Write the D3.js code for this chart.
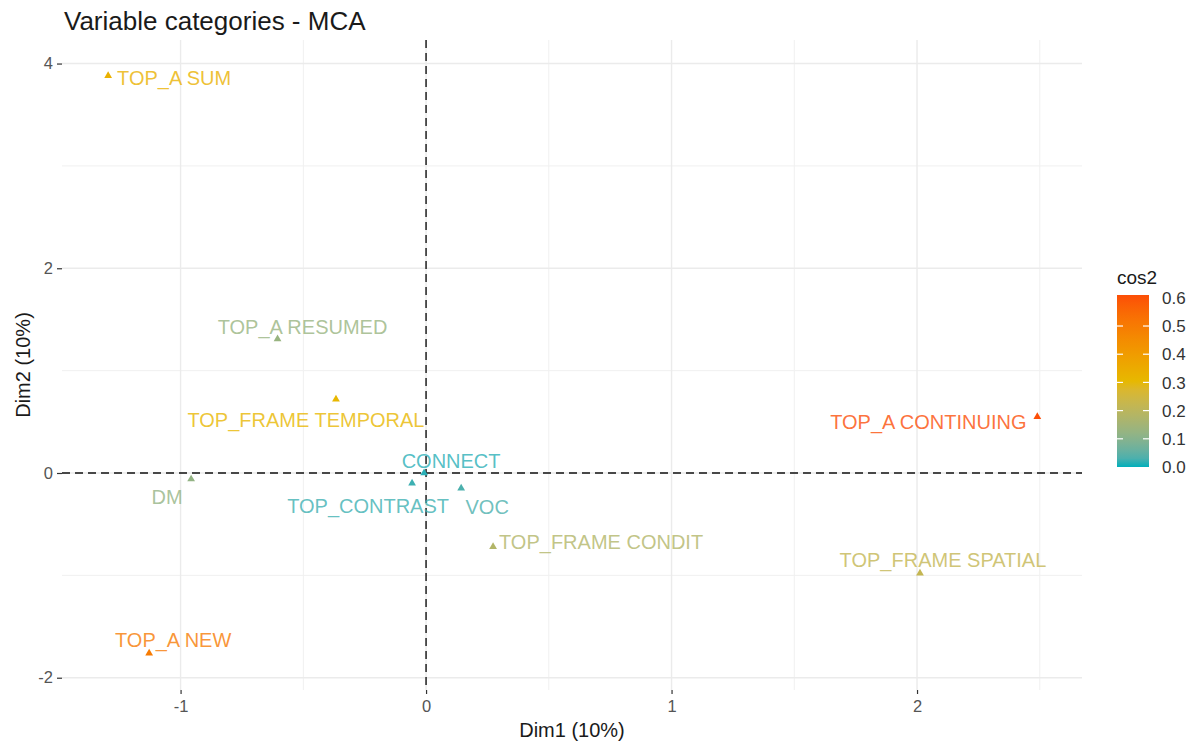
<!DOCTYPE html>
<html>
<head>
<meta charset="utf-8">
<script src="https://cdn.jsdelivr.net/npm/d3@7"></script>
<style>
  body { margin: 0; background: #fff; }
  text { font-family: "Liberation Sans", Arial, sans-serif; }
</style>
</head>
<body>
<div id="chart"></div>
<script>
// data
var categories = ["TOP_A SUM", "TOP_A RESUMED", "TOP_FRAME TEMPORAL", "DM", "CONNECT",
  "TOP_CONTRAST", "VOC", "TOP_FRAME CONDIT", "TOP_A CONTINUING", "TOP_FRAME SPATIAL", "TOP_A NEW"];
var dim1 = [-1.295, -0.605, -0.367, -0.957, -0.008, -0.057, 0.143, 0.273, 2.49, 2.012, -1.128];
var dim2 = [3.88, 1.31, 0.72, -0.06, 0.0, -0.10, -0.15, -0.72, 0.55, -0.98, -1.76];
var cos2 = [0.33, 0.13, 0.31, 0.12, 0.01, 0.02, 0.03, 0.18, 0.61, 0.22, 0.50];
var xTicks = [-1, 0, 1, 2];
var yTicks = [-2, 0, 2, 4];
var legendTicks = [0, 0.1, 0.2, 0.3, 0.4, 0.5, 0.6];

// label placement (repelled text offsets in px, from the point)
var labelOffset = {
  "TOP_A SUM": [66, 2], "TOP_A RESUMED": [25, -12], "TOP_FRAME TEMPORAL": [-30, 21],
  "DM": [-24, 18], "CONNECT": [27, -12], "TOP_CONTRAST": [-44, 23], "VOC": [26, 18],
  "TOP_FRAME CONDIT": [108, -5], "TOP_A CONTINUING": [-109, 5],
  "TOP_FRAME SPATIAL": [23, -14], "TOP_A NEW": [24, -13]
};

var width = 1196, height = 745;
var panel = {left: 62, right: 1082, top: 40, bottom: 690};

var svg = d3.select("#chart").append("svg")
  .attr("width", width)
  .attr("height", height);

var x = d3.scaleLinear().domain([-1.483, 2.672]).range([panel.left, panel.right]);
var y = d3.scaleLinear().domain([-2.12, 4.23]).range([panel.bottom, panel.top]);

var color = d3.scaleLinear()
  .domain([0, 0.305, 0.61])
  .range(["#00AFBB", "#E7B800", "#FC4E07"])
  .interpolate(d3.interpolateLab);

// grid
var grid = svg.append("g");
var xMinor = [-0.5, 0.5, 1.5, 2.5];
var yMinor = [-1, 1, 3];
grid.selectAll(".vminor").data(xMinor).enter().append("line")
  .attr("x1", x).attr("x2", x).attr("y1", panel.top).attr("y2", panel.bottom)
  .attr("stroke", "#f0f0f0").attr("stroke-width", 1);
grid.selectAll(".hminor").data(yMinor).enter().append("line")
  .attr("y1", y).attr("y2", y).attr("x1", panel.left).attr("x2", panel.right)
  .attr("stroke", "#f0f0f0").attr("stroke-width", 1);
grid.selectAll(".vmajor").data(xTicks).enter().append("line")
  .attr("x1", x).attr("x2", x).attr("y1", panel.top).attr("y2", panel.bottom)
  .attr("stroke", "#ebebeb").attr("stroke-width", 1.4);
grid.selectAll(".hmajor").data(yTicks).enter().append("line")
  .attr("y1", y).attr("y2", y).attr("x1", panel.left).attr("x2", panel.right)
  .attr("stroke", "#ebebeb").attr("stroke-width", 1.4);

// axes (plain hyphen minus, like R)
var fmt = function(d) { return String(d); };
var xAxis = d3.axisBottom(x).tickValues(xTicks).tickSize(4).tickPadding(6).tickFormat(fmt);
var yAxis = d3.axisLeft(y).tickValues(yTicks).tickSize(5).tickPadding(4).tickFormat(fmt);

var gx = svg.append("g")
  .attr("transform", "translate(0," + panel.bottom + ")")
  .call(xAxis);
var gy = svg.append("g")
  .attr("transform", "translate(" + panel.left + ",0)")
  .call(yAxis);
[gx, gy].forEach(function(g) {
  g.select(".domain").remove();
  g.selectAll(".tick line").attr("stroke", "#333").attr("stroke-width", 1.2);
  g.selectAll(".tick text").attr("fill", "#555").style("font-size", "16.5px")
    .style("font-family", "'Liberation Sans', Arial, sans-serif");
});

// zero reference lines
svg.append("line")
  .attr("x1", x(0)).attr("x2", x(0)).attr("y1", panel.top).attr("y2", panel.bottom)
  .attr("stroke", "#111").attr("stroke-width", 1.4).attr("stroke-dasharray", "8,5");
svg.append("line")
  .attr("y1", y(0)).attr("y2", y(0)).attr("x1", panel.left).attr("x2", panel.right)
  .attr("stroke", "#111").attr("stroke-width", 1.4).attr("stroke-dasharray", "8,5");

// points and labels
var pts = categories.map(function(c, i) {
  return {name: c, x: dim1[i], y: dim2[i], cos2: cos2[i]};
});

svg.selectAll(".pt").data(pts).enter().append("path")
  .attr("class", "pt")
  .attr("d", d3.symbol().type(d3.symbolTriangle).size(26))
  .attr("transform", function(d) { return "translate(" + x(d.x) + "," + y(d.y) + ")"; })
  .attr("fill", function(d) { return color(d.cos2); });

svg.selectAll(".lbl").data(pts).enter().append("text")
  .attr("class", "lbl")
  .attr("x", function(d) { return x(d.x) + labelOffset[d.name][0]; })
  .attr("y", function(d) { return y(d.y) + labelOffset[d.name][1]; })
  .attr("dy", "0.36em")
  .attr("text-anchor", "middle")
  .style("font-size", "20px")
  .attr("fill", function(d) { return color(d.cos2); })
  .attr("fill-opacity", 0.8)
  .text(function(d) { return d.name; });

// title and axis titles
svg.append("text")
  .attr("x", 64).attr("y", 30)
  .style("font-size", "26px").attr("fill", "#1a1a1a")
  .text("Variable categories - MCA");

svg.append("text")
  .attr("x", (panel.left + panel.right) / 2).attr("y", 737)
  .attr("text-anchor", "middle")
  .style("font-size", "20px").attr("fill", "#1a1a1a")
  .text("Dim1 (10%)");

svg.append("text")
  .attr("transform", "translate(30," + ((panel.top + panel.bottom) / 2) + ") rotate(-90)")
  .attr("text-anchor", "middle")
  .style("font-size", "20px").attr("fill", "#1a1a1a")
  .text("Dim2 (10%)");

// colour legend
var leg = {x: 1117, w: 32, top: 295, bottom: 467};
var ly = d3.scaleLinear().domain([0, 0.61]).range([leg.bottom, leg.top]);

var defs = svg.append("defs");
var grad = defs.append("linearGradient")
  .attr("id", "cosgrad")
  .attr("x1", 0).attr("y1", 1).attr("x2", 0).attr("y2", 0);
d3.range(0, 1.0001, 0.05).forEach(function(t) {
  grad.append("stop")
    .attr("offset", t)
    .attr("stop-color", color(t * 0.61));
});

svg.append("text")
  .attr("x", leg.x).attr("y", 284)
  .style("font-size", "19px").attr("fill", "#1a1a1a")
  .text("cos2");

svg.append("rect")
  .attr("x", leg.x).attr("y", leg.top)
  .attr("width", leg.w).attr("height", leg.bottom - leg.top)
  .attr("fill", "url(#cosgrad)");

var lg = svg.append("g");
var inner = legendTicks.filter(function(d) { return d > 0 && d < 0.6; });
lg.selectAll(".lt1").data(inner).enter().append("line")
  .attr("x1", leg.x).attr("x2", leg.x + 6).attr("y1", ly).attr("y2", ly)
  .attr("stroke", "#fff").attr("stroke-width", 1.2);
lg.selectAll(".lt2").data(inner).enter().append("line")
  .attr("x1", leg.x + leg.w - 6).attr("x2", leg.x + leg.w).attr("y1", ly).attr("y2", ly)
  .attr("stroke", "#fff").attr("stroke-width", 1.2);
lg.selectAll(".ll").data(legendTicks).enter().append("text")
  .attr("x", 1162)
  .attr("y", function(d) { return ly(d); })
  .attr("dy", "0.36em")
  .style("font-size", "17px").attr("fill", "#333")
  .text(function(d) { return d3.format(".1f")(d); });
</script>
</body>
</html>
